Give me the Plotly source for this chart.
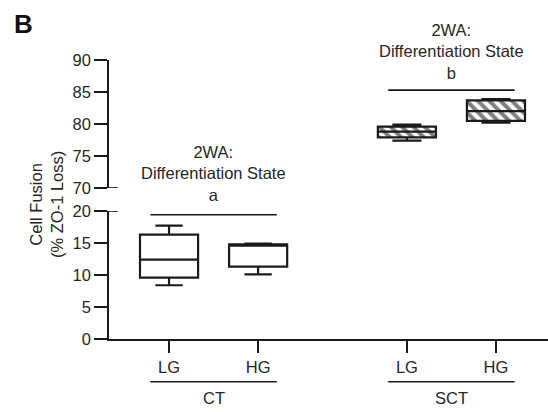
import plotly.graph_objects as go

# ---- data ----
groups = ["CT", "SCT"]
conditions = ["LG", "HG"]
# CT (lower axis segment, 0-20)
ct_min = [8.4, 10.1]
ct_q1 = [9.6, 11.3]
ct_median = [12.4, 14.6]
ct_q3 = [16.3, 14.8]
ct_max = [17.7, 14.9]
# SCT (upper axis segment, 70-90)
sct_min = [77.4, 80.2]
sct_q1 = [77.9, 80.5]
sct_median = [78.8, 82.0]
sct_q3 = [79.6, 83.7]
sct_max = [79.9, 83.9]
sig_letters = ["a", "b"]
lower_ticks = [0, 5, 10, 15, 20]
upper_ticks = [70, 75, 80, 85, 90]

# ---- layout helpers ----
gap = 0.67  # extra spacing between groups
def xpos(g, c):
    return 1 + c + g * (2 + gap)

ct_x = [xpos(0, i) for i in range(2)]
sct_x = [xpos(1, i) for i in range(2)]
centers = [sum(ct_x) / 2, sum(sct_x) / 2]
half = 0.71
box_w = 0.652

FONT = "Liberation Sans, Arial, sans-serif"
FS = 16.5
TXT = "#262626"
LINE = "#1a1a1a"

fig = go.Figure()

# hatch fill for SCT boxes
fig.add_trace(go.Bar(
    x=sct_x, y=[q3 - q1 for q1, q3 in zip(sct_q1, sct_q3)], base=sct_q1,
    width=box_w, yaxis="y2", xaxis="x",
    marker=dict(color="white", line=dict(width=0),
                pattern=dict(shape="\\", fgcolor="#000", bgcolor="white",
                             size=8, solidity=0.5)),
    hoverinfo="skip", showlegend=False))

fig.add_trace(go.Box(
    x=ct_x, q1=ct_q1, median=ct_median, q3=ct_q3,
    lowerfence=ct_min, upperfence=ct_max,
    width=box_w, whiskerwidth=0.47, boxpoints=False,
    fillcolor="rgba(0,0,0,0)", line=dict(color=LINE, width=2.2),
    xaxis="x", yaxis="y", showlegend=False))

fig.add_trace(go.Box(
    x=sct_x, q1=sct_q1, median=sct_median, q3=sct_q3,
    lowerfence=sct_min, upperfence=sct_max,
    width=box_w, whiskerwidth=0.5, boxpoints=False,
    fillcolor="rgba(0,0,0,0)", line=dict(color=LINE, width=2.2),
    xaxis="x", yaxis="y2", showlegend=False))

tickfont = dict(family=FONT, size=FS, color=TXT)
axis_common = dict(showline=True, linecolor=LINE, linewidth=1.6,
                   ticks="outside", ticklen=13, tickwidth=1.6, tickcolor=LINE,
                   showgrid=False, zeroline=False, tickfont=tickfont)

fig.update_layout(
    width=548, height=412,
    margin=dict(l=109, r=0, t=60, b=73),
    paper_bgcolor="white", plot_bgcolor="white",
    barmode="overlay",
    xaxis=dict(range=[0.326, 5.254], tickvals=ct_x + sct_x,
               ticktext=conditions + conditions, anchor="y",
               **{**axis_common, "ticklen": 12}),
    yaxis=dict(domain=[0, 0.4588], range=[0, 20], tickvals=lower_ticks,
               anchor="x", **axis_common),
    yaxis2=dict(domain=[0.5412, 1], range=[70, 90], tickvals=upper_ticks,
                anchor="x", **axis_common),
)

# axis break caps
for yref, yv in [("y", 20), ("y2", 70)]:
    fig.add_shape(type="line", xref="paper", yref=yref, xsizemode="pixel",
                  xanchor=0, x0=-7, x1=9, y0=yv, y1=yv,
                  line=dict(color=LINE, width=1.6))

# significance lines and labels
sig_y = [("y", 19.42), ("y2", 85.3)]
label_y = [0.594, 1.0287]
for i, (c, (yref, yv)) in enumerate(zip(centers, sig_y)):
    fig.add_shape(type="line", xref="x", yref=yref, x0=c - half, x1=c + half,
                  y0=yv, y1=yv, line=dict(color=LINE, width=1.6))
    fig.add_annotation(x=c, y=label_y[i], xref="x", yref="paper",
                       text="2WA:<br>Differentiation State<br>" + sig_letters[i],
                       showarrow=False, xanchor="center", yanchor="middle",
                       font=dict(family=FONT, size=FS, color=TXT))
    # group lines under x axis
    fig.add_shape(type="line", xref="x", yref="paper", x0=c - half, x1=c + half,
                  y0=-0.153, y1=-0.153, line=dict(color=LINE, width=1.6))
    fig.add_annotation(x=c, y=-0.212, xref="x", yref="paper", text=groups[i],
                       showarrow=False, xanchor="center", yanchor="middle",
                       font=dict(family=FONT, size=FS, color=TXT))

# y-axis title
fig.add_annotation(x=(46 - 109) / 439, y=(339 - 205) / 279, xref="paper", yref="paper",
                   text="Cell Fusion<br>(% ZO-1 Loss)", textangle=-90,
                   showarrow=False, xanchor="center", yanchor="middle",
                   font=dict(family=FONT, size=FS, color=TXT))

# panel letter
fig.add_annotation(x=-0.222, y=1.19, xref="paper", yref="paper",
                   text="<b>B</b>", showarrow=False, xanchor="left", yanchor="top",
                   font=dict(family=FONT, size=26, color="#111"))

fig.write_html("out.html", config={"displayModeBar": False},
               post_script="document.body.style.margin='0px';")
